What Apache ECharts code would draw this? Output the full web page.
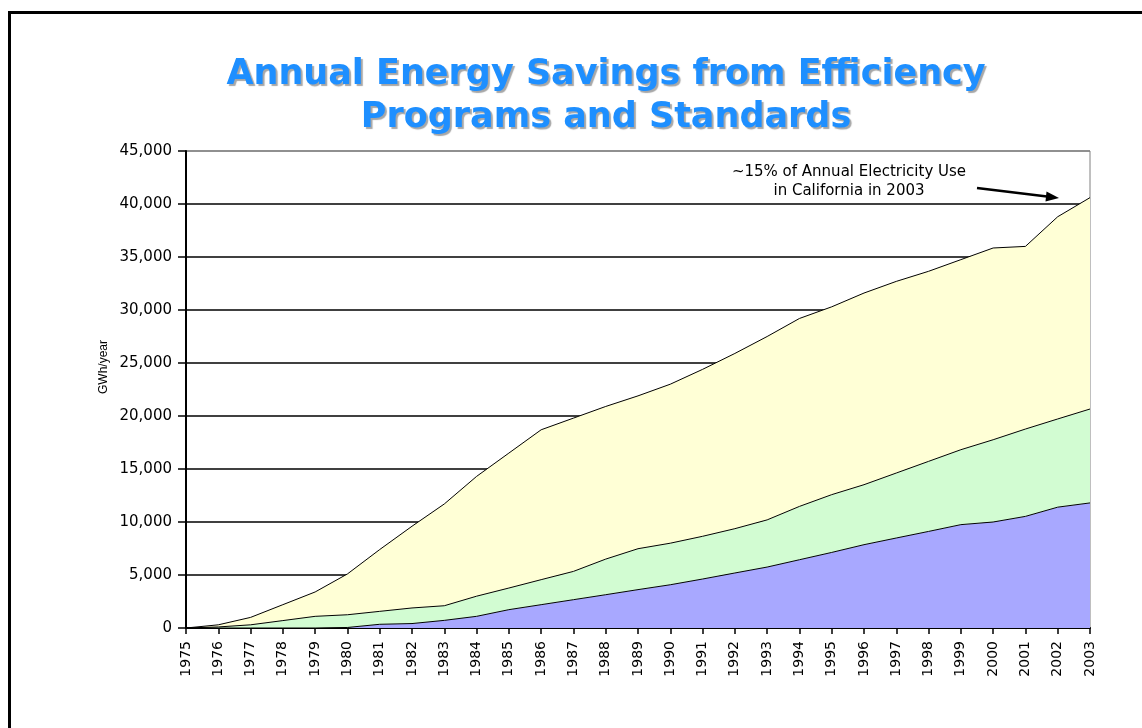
<!DOCTYPE html>
<html>
<head>
<meta charset="utf-8">
<title>Annual Energy Savings</title>
<script src="https://cdn.jsdelivr.net/npm/echarts@6/dist/echarts.min.js"></script>
<style>
  html, body { margin: 0; padding: 0; background: #fff; }
  #chart { width: 1142px; height: 728px; }
</style>
</head>
<body>
<div id="chart"></div>
<script>
// years on the x axis
const years = ["1975","1976","1977","1978","1979","1980","1981","1982","1983","1984",
  "1985","1986","1987","1988","1989","1990","1991","1992","1993","1994",
  "1995","1996","1997","1998","1999","2000","2001","2002","2003"];

// GWh/year, stacked bottom -> top
const appliance = [0,0,0,0,0,50,350,420,720,1100,1730,2200,2670,3140,3620,4080,4620,5190,5750,6440,7130,7860,8490,9110,9750,10000,10530,11400,11800];
const building  = [0,100,300,700,1100,1200,1220,1470,1380,1900,2040,2360,2670,3360,3860,3920,4030,4180,4450,5030,5450,5660,6130,6610,7070,7760,8240,8320,8860];
const utility   = [0,200,700,1500,2300,3850,5830,7710,9600,11300,12730,14140,14460,14400,14420,15000,15750,16530,17300,17730,17720,18080,18080,17930,17930,18090,17230,19080,19940];

const seriesNames = ["Appliance Standards", "Building Standards", "Utility Efficiency Programs"];
const yTicks = [0,5000,10000,15000,20000,25000,30000,35000,40000,45000];

const chart = echarts.init(document.getElementById("chart"));

// split lines black, top one grey like the plot border
let splitColors = yTicks.map((v, i) => i === yTicks.length - 1 ? "#808080" : "#000");

function areaSeries(name, data, color) {
  return {
    name: name,
    type: "line",
    stack: "total",
    data: data,
    symbol: "none",
    silent: true,
    lineStyle: { color: "#000", width: 1 },
    areaStyle: { color: color, opacity: 1 }
  };
}

const labelFont = "DejaVu Sans";

chart.setOption({
  animation: false,
  title: {
    text: "Annual Energy Savings from Efficiency\nPrograms and Standards",
    left: 601,
    top: 48,
    textAlign: "center",
    textStyle: {
      fontFamily: "DejaVu Sans",
      fontWeight: "bold",
      fontSize: 35,
      lineHeight: 43,
      color: "#1E8FFF",
      textShadowColor: "rgba(0,0,0,0.35)",
      textShadowOffsetX: 2,
      textShadowOffsetY: 2,
      textShadowBlur: 1
    }
  },
  grid: {
    left: 186, right: 52, top: 151, bottom: 100,
    show: true, borderColor: "#808080", borderWidth: 1, backgroundColor: "#fff"
  },
  xAxis: {
    type: "category",
    data: years,
    boundaryGap: false,
    axisLine: { lineStyle: { color: "#000", width: 2 } },
    axisTick: { show: true, interval: 0, length: 6, lineStyle: { color: "#000", width: 1.5 } },
    axisLabel: {
      interval: 0, rotate: 90, margin: 13,
      fontFamily: labelFont, fontSize: 14, color: "#000"
    },
    splitLine: { show: false }
  },
  yAxis: {
    type: "value",
    min: 0, max: 45000, interval: 5000,
    axisLine: { show: true, lineStyle: { color: "#000", width: 2 } },
    axisTick: { show: true, length: 8, lineStyle: { color: "#000", width: 1.5 } },
    axisLabel: {
      margin: 14,
      fontFamily: labelFont, fontSize: 15, color: "#000",
      formatter: (v) => v.toLocaleString("en-US")
    },
    splitLine: { show: true, lineStyle: { color: splitColors, width: 1.5 } }
  },
  series: [
    areaSeries(seriesNames[0], appliance, "#A8A8FF"),
    areaSeries(seriesNames[1], building, "#D2FCD2"),
    areaSeries(seriesNames[2], utility, "#FFFFD6")
  ],
  graphic: [
    // outer frame
    {
      type: "rect", silent: true,
      shape: { x: 9.5, y: 12.5, width: 1300, height: 900 },
      style: { fill: "none", stroke: "#000", lineWidth: 3 }
    },
    // y axis name
    {
      type: "text", x: 104, y: 367, rotation: Math.PI / 2,
      style: { text: "GWh/year", font: "12px 'Liberation Sans'", fill: "#000",
        textAlign: "center", textVerticalAlign: "middle" }
    },
    // area labels
    {
      type: "text", x: 883, y: 386,
      style: { text: "Utility Efficiency\nPrograms at a cost of\n~1% of electric bill",
        font: "16px 'DejaVu Sans'", lineHeight: 21, fill: "#000",
        textAlign: "center", textVerticalAlign: "middle" }
    },
    {
      type: "text", x: 961, y: 494,
      style: { text: "Building Standards", font: "16px 'DejaVu Sans'", fill: "#000",
        textAlign: "center", textVerticalAlign: "middle" }
    },
    {
      type: "text", x: 942, y: 582,
      style: { text: "Appliance Standards", font: "16px 'DejaVu Sans'", fill: "#000",
        textAlign: "center", textVerticalAlign: "middle" }
    },
    // note on the 2003 total
    {
      type: "text", x: 849, y: 182,
      style: { text: "~15% of Annual Electricity Use\nin California in 2003",
        font: "15px 'DejaVu Sans'", lineHeight: 19, fill: "#000",
        textAlign: "center", textVerticalAlign: "middle" }
    },
    {
      type: "line", silent: true,
      shape: { x1: 977, y1: 188, x2: 1047, y2: 196.5 },
      style: { stroke: "#000", lineWidth: 2.5 }
    },
    {
      type: "polygon", silent: true,
      shape: { points: [[1059, 198], [1046.5, 191.5], [1045.5, 201.5]] },
      style: { fill: "#000" }
    }
  ]
});
</script>
</body>
</html>
